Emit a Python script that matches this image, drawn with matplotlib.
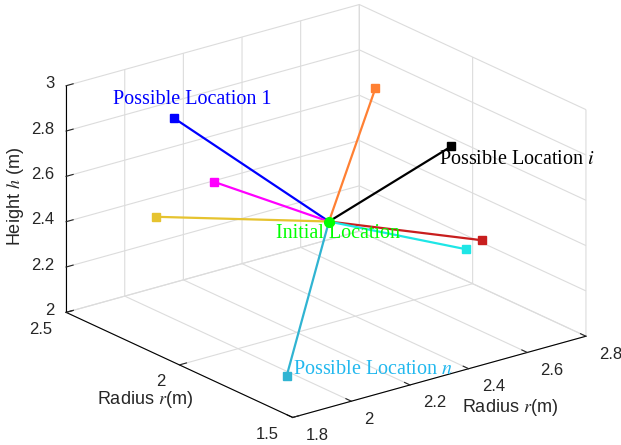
import numpy as np
import matplotlib.pyplot as plt
import matplotlib.transforms as mtransforms
from mpl_toolkits.mplot3d import proj3d

plt.rcParams['font.family'] = ['Liberation Sans', 'DejaVu Sans']
plt.rcParams['mathtext.fontset'] = 'stix'

# initial location (radius x, radius y, height)
init_loc = [2.31, 2.0, 2.45]

# candidate locations
loc_x = [2.09, 2.149, 2.029, 2.623, 2.572, 2.678, 2.546, 1.857]
loc_y = [2.4, 2.3, 2.4, 2.2, 1.8, 1.8, 1.7, 1.6]
loc_z = [2.80, 2.544, 2.386, 2.833, 2.78, 2.328, 2.382, 2.118]
loc_colors = ['#0000FF', '#FF00FF', '#E6C32F', '#FF8033', '#000000',
              '#C81E1E', '#1EE6E6', '#30B4D2']

x_ticks = [1.8, 2, 2.2, 2.4, 2.6, 2.8]
y_ticks = [1.5, 2, 2.5]
z_ticks = [2, 2.2, 2.4, 2.6, 2.8, 3]
x_labels = ['1.8', '2', '2.2', '2.4', '2.6', '2.8']
y_labels = ['1.5', '2', '2.5']
z_labels = ['2', '2.2', '2.4', '2.6', '2.8', '3']

grid_col = '#DCDCDC'
txt_col = '#262626'

fig = plt.figure(figsize=(6.21, 4.45), dpi=100)
ax = fig.add_axes([9.5 / 621, 5.5 / 445, 1, 1], projection='3d')
ax.set_proj_type('ortho')
ax.view_init(elev=21, azim=-127.7)
ax.set_box_aspect((1, 1, 0.655), zoom=1.26)

for i in range(len(loc_x)):
    ax.plot([init_loc[0], loc_x[i]], [init_loc[1], loc_y[i]], [init_loc[2], loc_z[i]],
            color=loc_colors[i], lw=1.6)
    ax.plot([loc_x[i]], [loc_y[i]], [loc_z[i]], 's', color=loc_colors[i], ms=6)
ax.plot([init_loc[0]], [init_loc[1]], [init_loc[2]], 'o', color='#00FF00', ms=7)

ax.set_xlim(1.8, 2.8)
ax.set_ylim(1.5, 2.5)
ax.set_zlim(2, 3)
ax.set_xticks(x_ticks)
ax.set_yticks(y_ticks)
ax.set_zticks(z_ticks)
# tick labels are placed by hand below (MATLAB-like offsets)
ax.set_xticklabels([''] * len(x_ticks))
ax.set_yticklabels([''] * len(y_ticks))
ax.set_zticklabels([''] * len(z_ticks))

for axis in (ax.xaxis, ax.yaxis, ax.zaxis):
    axis.set_pane_color((1, 1, 1, 0))
    axis.pane.set_edgecolor(grid_col)
    axis._axinfo['grid']['color'] = grid_col
    axis._axinfo['grid']['linewidth'] = 0.8
    axis._axinfo['axisline']['color'] = txt_col
    axis._axinfo['tick']['inward_factor'] = 0.0
    axis._axinfo['tick']['outward_factor'] = 0.3
    axis.line.set_linewidth(0.8)
ax.tick_params(colors=txt_col)

fig.canvas.draw()


def tick_text(x, y, z, s, dx, dy, ha):
    px, py, _ = proj3d.proj_transform(x, y, z, ax.get_proj())
    tr = mtransforms.offset_copy(ax.transData, fig=fig, x=dx, y=dy, units='dots')
    ax.text2D(px, py, s, transform=tr, ha=ha, va='center', fontsize=12, color=txt_col)


for t, s in zip(x_ticks, x_labels):
    tick_text(t, 1.5, 2, s, 13, -18, 'left')
for t, s in zip(y_ticks, y_labels):
    tick_text(1.8, t, 2, s, -14, -17, 'right')
for t, s in zip(z_ticks, z_labels):
    tick_text(1.8, 2.5, t, s, -12, 2, 'right')

# axis titles placed as in the reference (horizontal)
fig.text(145 / 621, 1 - 400 / 445, 'Radius $r$(m)', fontsize=13, color=txt_col,
         ha='center', va='center')
fig.text(510 / 621, 1 - 408 / 445, 'Radius $r$(m)', fontsize=13, color=txt_col,
         ha='center', va='center')
fig.text(16 / 621, 1 - 197 / 445, 'Height $h$ (m)', fontsize=13, color=txt_col,
         ha='center', va='center', rotation=90)

fig.text(113 / 621, 1 - 100 / 445, 'Possible Location 1', color='#0000FF',
         family='Liberation Serif', fontsize=14.5, ha='left', va='center')
fig.text(276 / 621, 1 - 233 / 445, 'Initial Location', color='#00FF00',
         family='Liberation Serif', fontsize=14.5, ha='left', va='center')
fig.text(439 / 621, 1 - 159 / 445, 'Possible Location $i$', color='#000000',
         family='Liberation Serif', fontsize=14.5, ha='left', va='center')
fig.text(293 / 621, 1 - 370 / 445, 'Possible Location $n$', color='#22B8EE',
         family='Liberation Serif', fontsize=14.5, ha='left', va='center')

fig.savefig('out.png', dpi=100)
